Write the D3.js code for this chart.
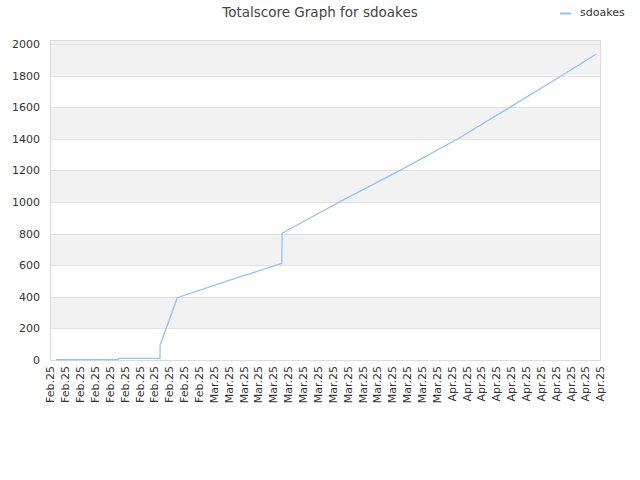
<!DOCTYPE html>
<html>
<head>
<meta charset="utf-8">
<script src="https://cdn.jsdelivr.net/npm/d3@7"></script>
<style>
  body { margin: 0; background: #fff; }
  text { font-family: "DejaVu Sans", sans-serif; }
</style>
</head>
<body>
<svg id="chart" width="640" height="480"></svg>
<script>
// tick labels along the x axis (one per tick)
const monthLabels = [].concat(
  Array(11).fill("Feb.25"),
  Array(16).fill("Mar.25"),
  Array(11).fill("Apr.25")
);

// line points: position in tick units and total score
const scorePos = [0.4, 1.9, 4.6, 4.62, 7.4, 7.41, 8.56, 12.0, 15.6, 15.61, 19.51, 23.55, 27.45, 30.95, 34.44, 36.73];
const scoreVals = [2, 3, 3, 10, 10, 95, 394, 502, 612, 802, 1002, 1200, 1400, 1600, 1800, 1935];

const yTicks = [0, 200, 400, 600, 800, 1000, 1200, 1400, 1600, 1800, 2000];
const seriesName = "sdoakes";

const svg = d3.select("#chart");
const margin = { top: 40, right: 40, bottom: 120, left: 50 };
const width = +svg.attr("width") - margin.left - margin.right;
const height = +svg.attr("height") - margin.top - margin.bottom;

const x = d3.scaleLinear().domain([0, monthLabels.length - 1]).range([0, width]);
const y = d3.scaleLinear().domain([0, 2025]).range([height, 0]);

const g = svg.append("g").attr("transform", `translate(${margin.left},${margin.top})`);

// alternating bands
const bands = yTicks.map((t, i) => ({ lo: t, hi: i === yTicks.length - 1 ? 2025 : yTicks[i + 1], i }));
g.selectAll(".band")
  .data(bands.filter((d) => d.i % 2 === 1 || d.i === yTicks.length - 1))
  .enter()
  .append("rect")
  .attr("x", 0)
  .attr("width", width)
  .attr("y", (d) => y(d.hi))
  .attr("height", (d) => y(d.lo) - y(d.hi))
  .attr("fill", "#f2f2f2");

// grid lines
g.selectAll(".grid")
  .data(yTicks)
  .enter()
  .append("line")
  .attr("x1", 0)
  .attr("x2", width)
  .attr("y1", (d) => Math.round(y(d)) + 0.5)
  .attr("y2", (d) => Math.round(y(d)) + 0.5)
  .attr("stroke", "#e2e2e2");

// border
g.append("rect")
  .attr("x", 0.5)
  .attr("y", 0.5)
  .attr("width", width)
  .attr("height", height)
  .attr("fill", "none")
  .attr("stroke", "#dddddd");

// y axis
const yAxis = g.append("g")
  .call(d3.axisLeft(y).tickValues(yTicks).tickFormat(d3.format("d")).tickSize(0).tickPadding(10));
yAxis.select(".domain").remove();
yAxis.selectAll("text")
  .attr("font-size", "11px")
  .attr("fill", "#333")
  .style("font-family", "DejaVu Sans, sans-serif");

// x axis
const xAxis = g.append("g")
  .attr("transform", `translate(0,${height})`)
  .call(d3.axisBottom(x)
    .tickValues(d3.range(monthLabels.length))
    .tickFormat((i) => monthLabels[i])
    .tickSize(0));
xAxis.select(".domain").remove();
xAxis.selectAll("text")
  .attr("font-size", "11px")
  .attr("fill", "#333")
  .style("font-family", "DejaVu Sans, sans-serif")
  .attr("text-anchor", "end")
  .attr("transform", "rotate(-90)")
  .attr("x", -6)
  .attr("y", 0)
  .attr("dy", "0.35em");

// line
const points = scorePos.map((p, i) => [p, scoreVals[i]]);
const line = d3.line().x((d) => x(d[0])).y((d) => y(d[1]));
g.append("path")
  .datum(points)
  .attr("d", line)
  .attr("fill", "none")
  .attr("stroke", "#92c3f3")
  .attr("stroke-width", 1.3);

// title
svg.append("text")
  .attr("x", 320)
  .attr("y", 17)
  .attr("text-anchor", "middle")
  .attr("font-size", "13.5px")
  .attr("fill", "#444")
  .text("Totalscore Graph for " + seriesName);

// legend
svg.append("line")
  .attr("x1", 560)
  .attr("x2", 571)
  .attr("y1", 13.5)
  .attr("y2", 13.5)
  .attr("stroke", "#92c3f3")
  .attr("stroke-width", 2);
svg.append("text")
  .attr("x", 580)
  .attr("y", 16)
  .attr("font-size", "11px")
  .attr("fill", "#333")
  .text(seriesName);
</script>
</body>
</html>
